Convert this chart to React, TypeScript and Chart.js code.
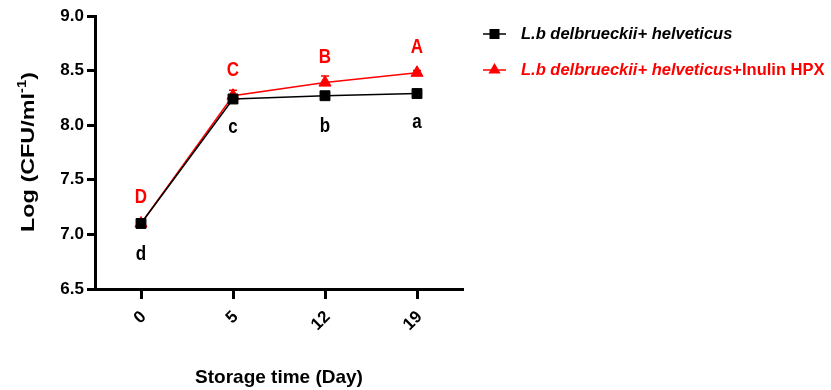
import React, { useEffect, useRef } from 'react';
import { Chart, registerables } from 'chart.js';

Chart.register(...registerables);

// ---- data ----
const days = ['0', '5', '12', '19'];
const yMin = 6.5;
const yMax = 9.0;
const yStep = 0.5;

const controlLabel = 'L.b delbrueckii+ helveticus';
const controlValues = [7.1, 8.24, 8.27, 8.29];
const controlErrors = [0, 0.02, 0.02, 0.02];
const controlLetters = ['d', 'c', 'b', 'a'];

const inulinItalic = 'L.b delbrueckii+ helveticus';
const inulinSuffix = '+Inulin HPX';
const inulinValues = [7.1, 8.27, 8.39, 8.48];
const inulinErrors = [0, 0.05, 0.06, 0.02];
const inulinLetters = ['D', 'C', 'B', 'A'];

const xTitle = 'Storage time (Day)';
const yTitleMain = 'Log (CFU/ml';
const yTitleSup = '-1';
const yTitleEnd = ')';

// ---- style ----
const FONT = '"Liberation Sans", Arial, Helvetica, sans-serif';
const BLACK = '#000000';
const RED = '#ff0000';

const extras = {
  id: 'extras',
  beforeDatasetsDraw(chart: any) {
    const { ctx } = chart;
    const xs = chart.scales.x;
    const ys = chart.scales.y;
    const drawErr = (vals: number[], errs: number[], color: string) => {
      ctx.save();
      ctx.strokeStyle = color;
      ctx.lineWidth = 1.5;
      vals.forEach((v, i) => {
        if (!errs[i]) return;
        const px = xs.getPixelForValue(i);
        const p0 = ys.getPixelForValue(v);
        const p1 = ys.getPixelForValue(v + errs[i]);
        ctx.beginPath();
        ctx.moveTo(px, p0);
        ctx.lineTo(px, p1);
        ctx.moveTo(px - 4, p1);
        ctx.lineTo(px + 4, p1);
        ctx.stroke();
      });
      ctx.restore();
    };
    drawErr(inulinValues, inulinErrors, RED);
    drawErr(controlValues, controlErrors, BLACK);
  },
  afterDatasetsDraw(chart: any) {
    const { ctx } = chart;
    const xs = chart.scales.x;
    const ys = chart.scales.y;
    const drawLetter = (t: string, cx: number, cy: number, color: string) => {
      ctx.save();
      ctx.font = `bold 20px ${FONT}`;
      ctx.fillStyle = color;
      ctx.textAlign = 'center';
      ctx.textBaseline = 'alphabetic';
      const m = ctx.measureText(t);
      const base = cy + (m.actualBoundingBoxAscent - m.actualBoundingBoxDescent) / 2;
      ctx.translate(cx, base);
      ctx.scale(0.85, 1);
      ctx.fillText(t, 0, 0);
      ctx.restore();
    };
    inulinLetters.forEach((t, i) => {
      drawLetter(t, xs.getPixelForValue(i), ys.getPixelForValue(inulinValues[i]) - 27, RED);
    });
    controlLetters.forEach((t, i) => {
      drawLetter(t, xs.getPixelForValue(i), ys.getPixelForValue(controlValues[i]) + 29, BLACK);
    });
  },
  afterDraw(chart: any) {
    const { ctx } = chart;
    // legend
    const lx0 = 483;
    const lx1 = 506;
    const mx = 494.5;
    const tx = 521;
    const rows = [34, 70];
    ctx.save();
    // row 1
    ctx.strokeStyle = BLACK;
    ctx.fillStyle = BLACK;
    ctx.lineWidth = 1.5;
    ctx.beginPath();
    ctx.moveTo(lx0, rows[0]);
    ctx.lineTo(lx1, rows[0]);
    ctx.stroke();
    ctx.fillRect(mx - 5, rows[0] - 5, 10, 10);
    ctx.font = `italic bold 16.5px ${FONT}`;
    ctx.textAlign = 'left';
    ctx.textBaseline = 'middle';
    ctx.fillText(controlLabel, tx, rows[0]);
    // row 2
    ctx.strokeStyle = RED;
    ctx.fillStyle = RED;
    ctx.beginPath();
    ctx.moveTo(lx0, rows[1]);
    ctx.lineTo(lx1, rows[1]);
    ctx.stroke();
    ctx.beginPath();
    ctx.moveTo(mx, rows[1] - 7);
    ctx.lineTo(mx + 6.1, rows[1] + 3.5);
    ctx.lineTo(mx - 6.1, rows[1] + 3.5);
    ctx.closePath();
    ctx.fill();
    ctx.font = `italic bold 16.5px ${FONT}`;
    ctx.fillText(inulinItalic, tx, rows[1]);
    const w = ctx.measureText(inulinItalic).width;
    ctx.font = `bold 16.5px ${FONT}`;
    ctx.fillText(inulinSuffix, tx + w, rows[1]);
    ctx.restore();

    // y-axis title (rotated, with superscript)
    ctx.save();
    ctx.fillStyle = BLACK;
    ctx.textBaseline = 'middle';
    ctx.textAlign = 'left';
    const mainFont = `bold 19px ${FONT}`;
    const supFont = `bold 12px ${FONT}`;
    ctx.font = mainFont;
    const w1 = ctx.measureText(yTitleMain).width;
    const w3 = ctx.measureText(yTitleEnd).width;
    ctx.font = supFont;
    const w2 = ctx.measureText(yTitleSup).width;
    const total = w1 + w2 + w3;
    const target = 160;
    const s = target / total;
    ctx.translate(29, 152);
    ctx.rotate(-Math.PI / 2);
    ctx.scale(s, 1);
    let x = -total / 2;
    ctx.font = mainFont;
    ctx.fillText(yTitleMain, x, 0);
    x += w1;
    ctx.font = supFont;
    ctx.fillText(yTitleSup, x, -6);
    x += w2;
    ctx.font = mainFont;
    ctx.fillText(yTitleEnd, x, 0);
    ctx.restore();
  },
};

export default function App() {
  const ref = useRef<HTMLCanvasElement>(null);

  useEffect(() => {
    if (!ref.current) return;
    const chart = new Chart(ref.current, {
      type: 'line',
      data: {
        labels: days,
        datasets: [
          {
            label: controlLabel,
            data: controlValues,
            borderColor: BLACK,
            backgroundColor: BLACK,
            borderWidth: 1.5,
            pointStyle: 'rect',
            pointRadius: 7,
            pointBorderWidth: 1,
            tension: 0,
          },
          {
            label: inulinItalic + inulinSuffix,
            data: inulinValues,
            borderColor: RED,
            backgroundColor: RED,
            borderWidth: 1.5,
            pointStyle: 'triangle',
            pointRadius: 7,
            pointBorderWidth: 1,
            tension: 0,
          },
        ],
      },
      options: {
        responsive: false,
        devicePixelRatio: 1,
        animation: false,
        layout: { padding: { left: 0, top: 16, right: 368, bottom: 0 } },
        plugins: {
          legend: { display: false },
          tooltip: { enabled: false },
        },
        scales: {
          x: {
            type: 'category',
            offset: true,
            afterFit: (scale: any) => {
              scale.height = 101;
            },
            border: { display: true, color: BLACK, width: 3 },
            grid: {
              offset: false,
              drawOnChartArea: false,
              drawTicks: true,
              tickLength: 10,
              tickWidth: 3,
              tickColor: BLACK,
              color: BLACK,
            },
            ticks: {
              autoSkip: false,
              minRotation: 45,
              maxRotation: 45,
              padding: 8,
              labelOffset: 2.5,
              color: BLACK,
              font: { family: FONT, size: 17, weight: 'bold' },
            },
            title: {
              display: true,
              text: xTitle,
              color: BLACK,
              font: { family: FONT, size: 19, weight: 'bold' },
              padding: { top: 0, bottom: 1 },
            },
          },
          y: {
            type: 'linear',
            min: yMin,
            max: yMax,
            afterFit: (scale: any) => {
              scale.width = 95;
            },
            border: { display: true, color: BLACK, width: 3 },
            grid: {
              drawOnChartArea: false,
              drawTicks: true,
              tickLength: 8,
              tickWidth: 3,
              tickColor: BLACK,
              color: BLACK,
            },
            ticks: {
              stepSize: yStep,
              padding: 3,
              color: BLACK,
              font: { family: FONT, size: 17, weight: 'bold' },
              callback: (v: any) => Number(v).toFixed(1),
            },
          },
        },
      } as any,
      plugins: [extras],
    });
    return () => chart.destroy();
  }, []);

  return (
    <div style={{ position: 'fixed', left: 0, top: 0, width: 831, height: 390, background: '#ffffff' }}>
      <canvas ref={ref} width={831} height={390} style={{ display: 'block', width: 831, height: 390 }} />
    </div>
  );
}
